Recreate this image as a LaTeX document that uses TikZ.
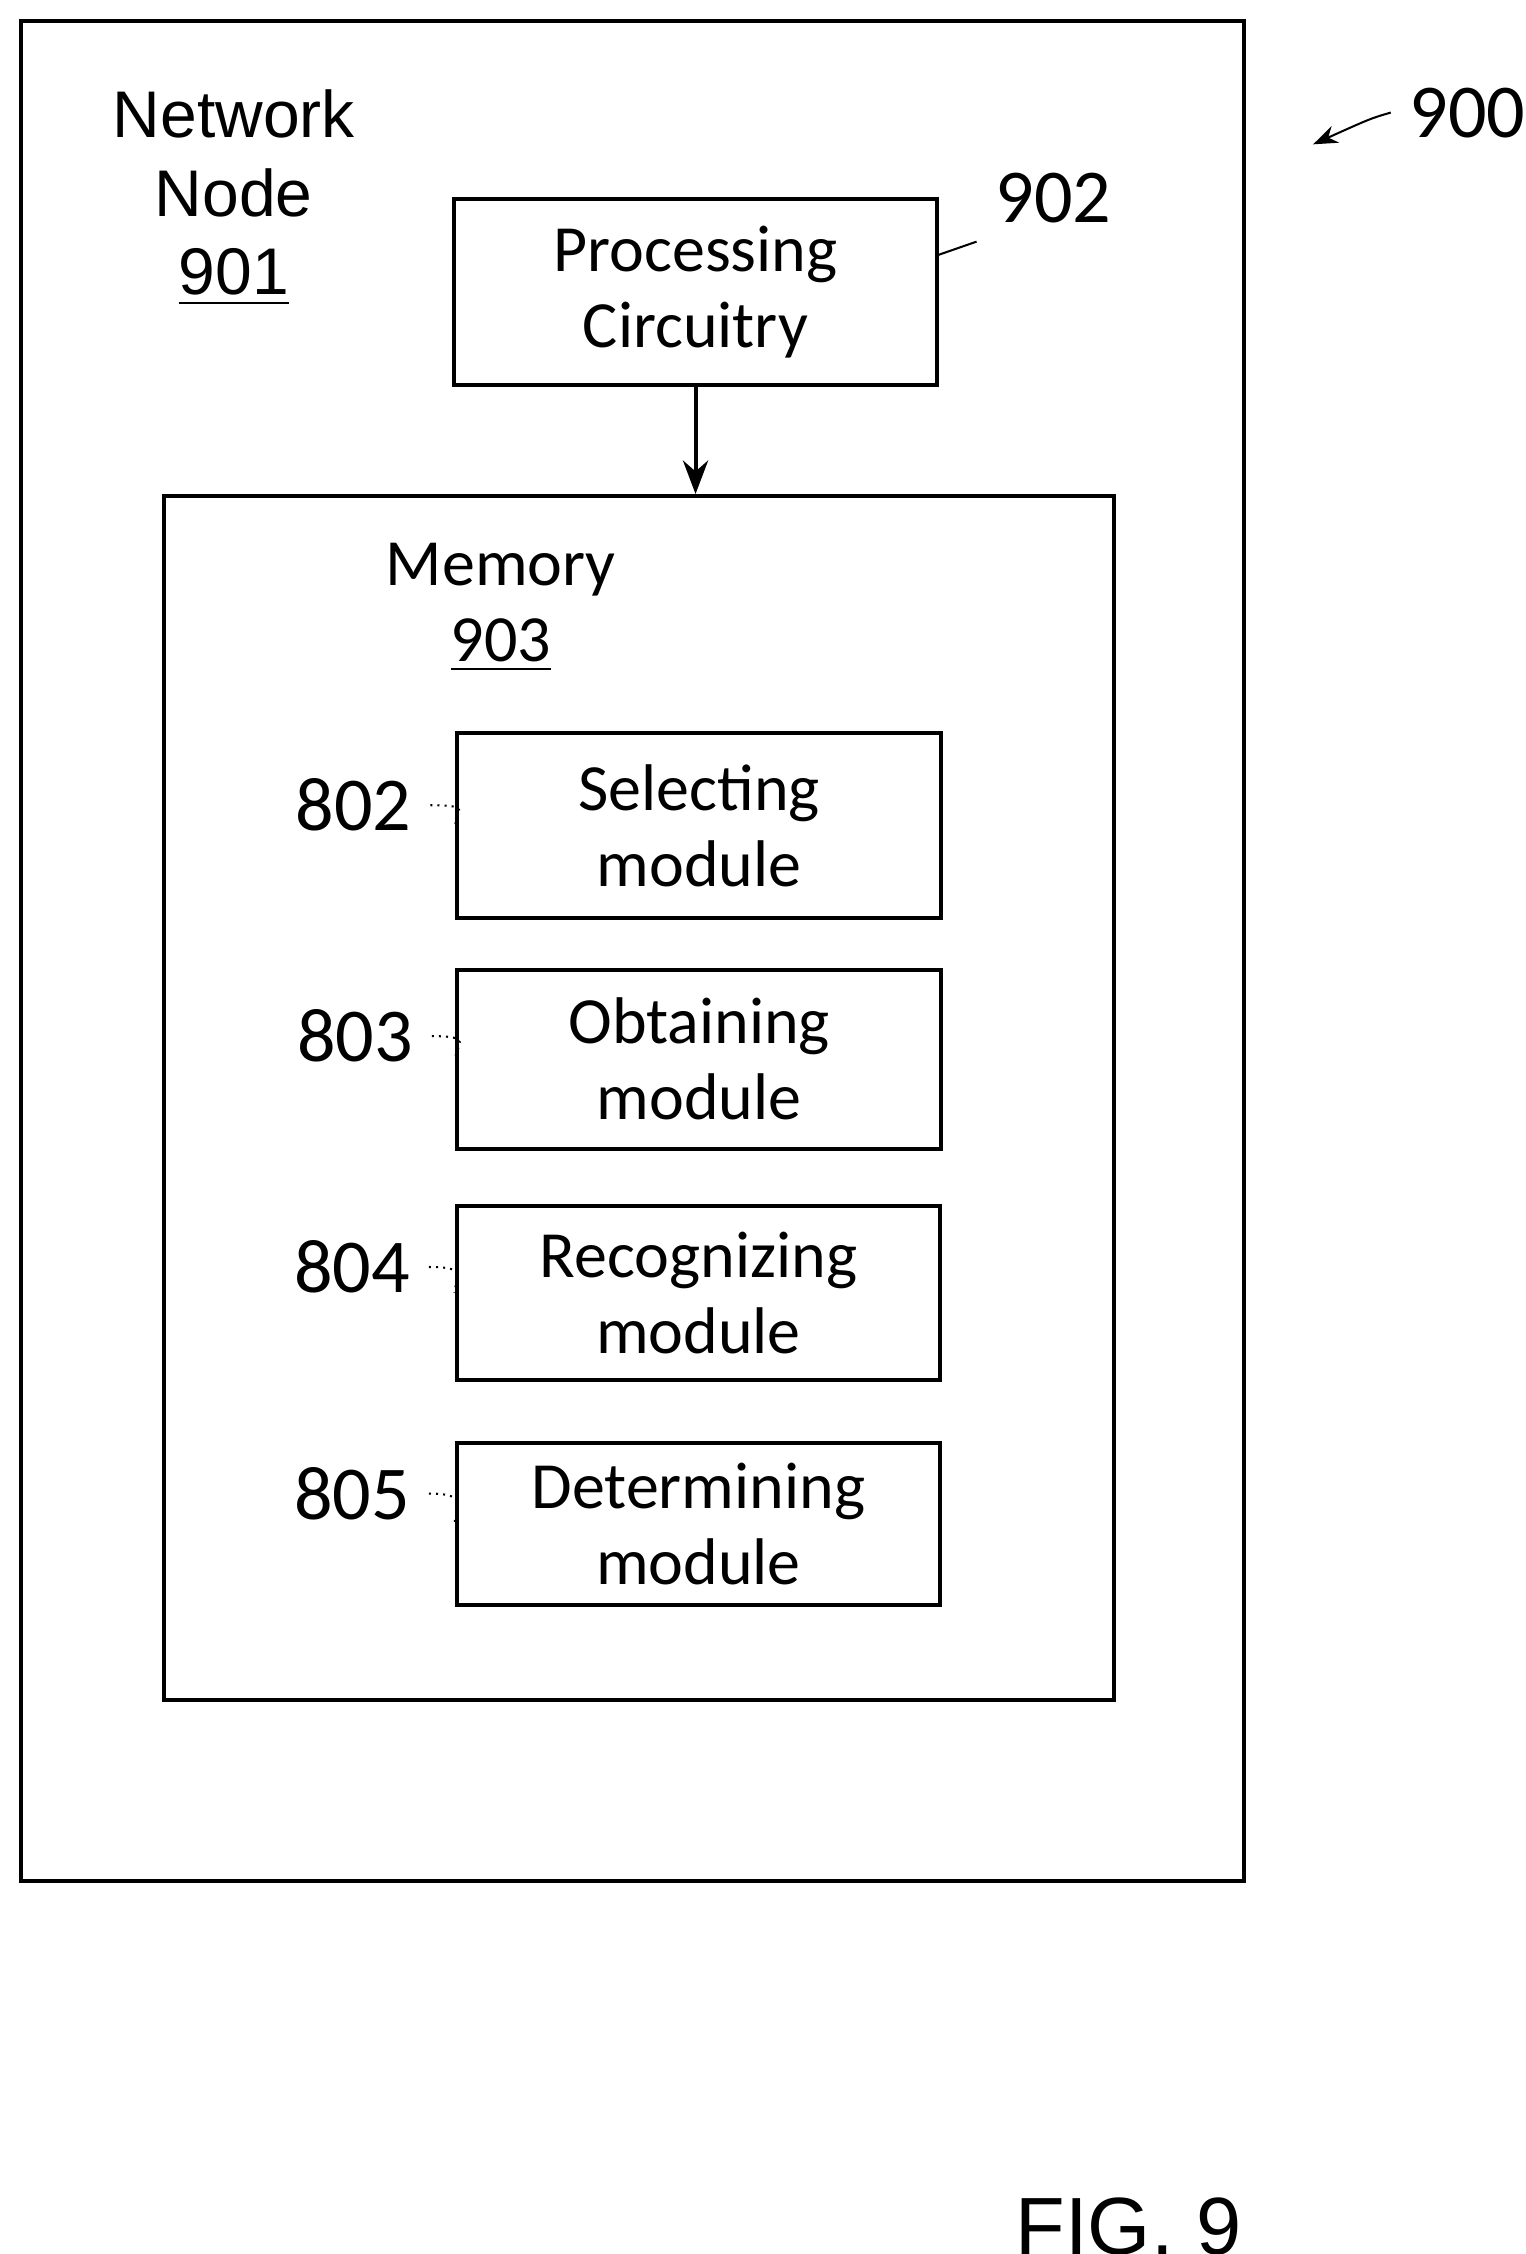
\documentclass[tikz,border=0pt]{standalone}
\usepackage{fontspec}
\setmainfont{Carlito}
\newfontfamily\arialfont{Liberation Sans}
\usetikzlibrary{arrows.meta,positioning}

\begin{document}
\begin{tikzpicture}
[x=0.01cm,y=-0.01cm,>=Stealth,font=\fontsize{13}{15}\selectfont,thick]
\tikzstyle{box}=[draw, thick, align=center, inner sep=0pt]
\tikzstyle{mod}=[box, minimum width=3.35cm, minimum height=1.2cm]
\tikzstyle{num}=[font=\fontsize{15}{17}\selectfont]
\tikzstyle{squig}=[thin, densely dotted]

\useasboundingbox (0,0) rectangle (1057,1562);

\node[box, minimum width=8.47cm, minimum height=12.88cm] (node) at (438.5,659) {};
\node[align=center, font=\arialfont\fontsize{13}{15.5}\selectfont] (nodelbl) at (162,137) {Network\\Node\\\underline{901}};

\node[box, minimum width=3.34cm, minimum height=1.29cm] (proc) at (482,202.5) {Processing\\Circuitry};
\node[num] (l902) at (730,137) {902};
\draw[thin] (proc.north east) ++(0,40) -- (l902.south west);

\node[num] (l900) at (1017,78) {900};
\draw[->, thin] (l900.west) .. controls (950,82) .. (910,100);

\node[box, minimum width=6.58cm, minimum height=8.34cm] (mem) at (443,761) {};
\node[align=center] (memlbl) at (347,421) {Memory\\\underline{903}};
\draw[->] (proc.south) -- (proc.south |- mem.north);

\node[mod, minimum height=1.28cm] (sel) at (484.5,572) {Selecting\\module};
\node[mod, minimum height=1.24cm] (obt) at (484.5,734) {Obtaining\\module};
\node[mod] (rec) at (484,896) {Recognizing\\module};
\node[mod, minimum height=1.12cm] (det) at (484,1056) {Determining\\module};

\node[num] (l802) at (245,558) {802};
\node[num] (l803) at (246,718) {803};
\node[num] (l804) at (244,878) {804};
\node[num] (l805) at (244,1035) {805};
\foreach \lab/\modname in {l802/sel,l803/obt,l804/rec,l805/det}
  \draw[squig] (\lab.east) .. controls +(30,0) and +(0,-10) .. (\modname.west);

\node[font=\arialfont\fontsize{16}{18}\selectfont] (fig) at (782,1543) {FIG. 9};
\end{tikzpicture}
\end{document}
